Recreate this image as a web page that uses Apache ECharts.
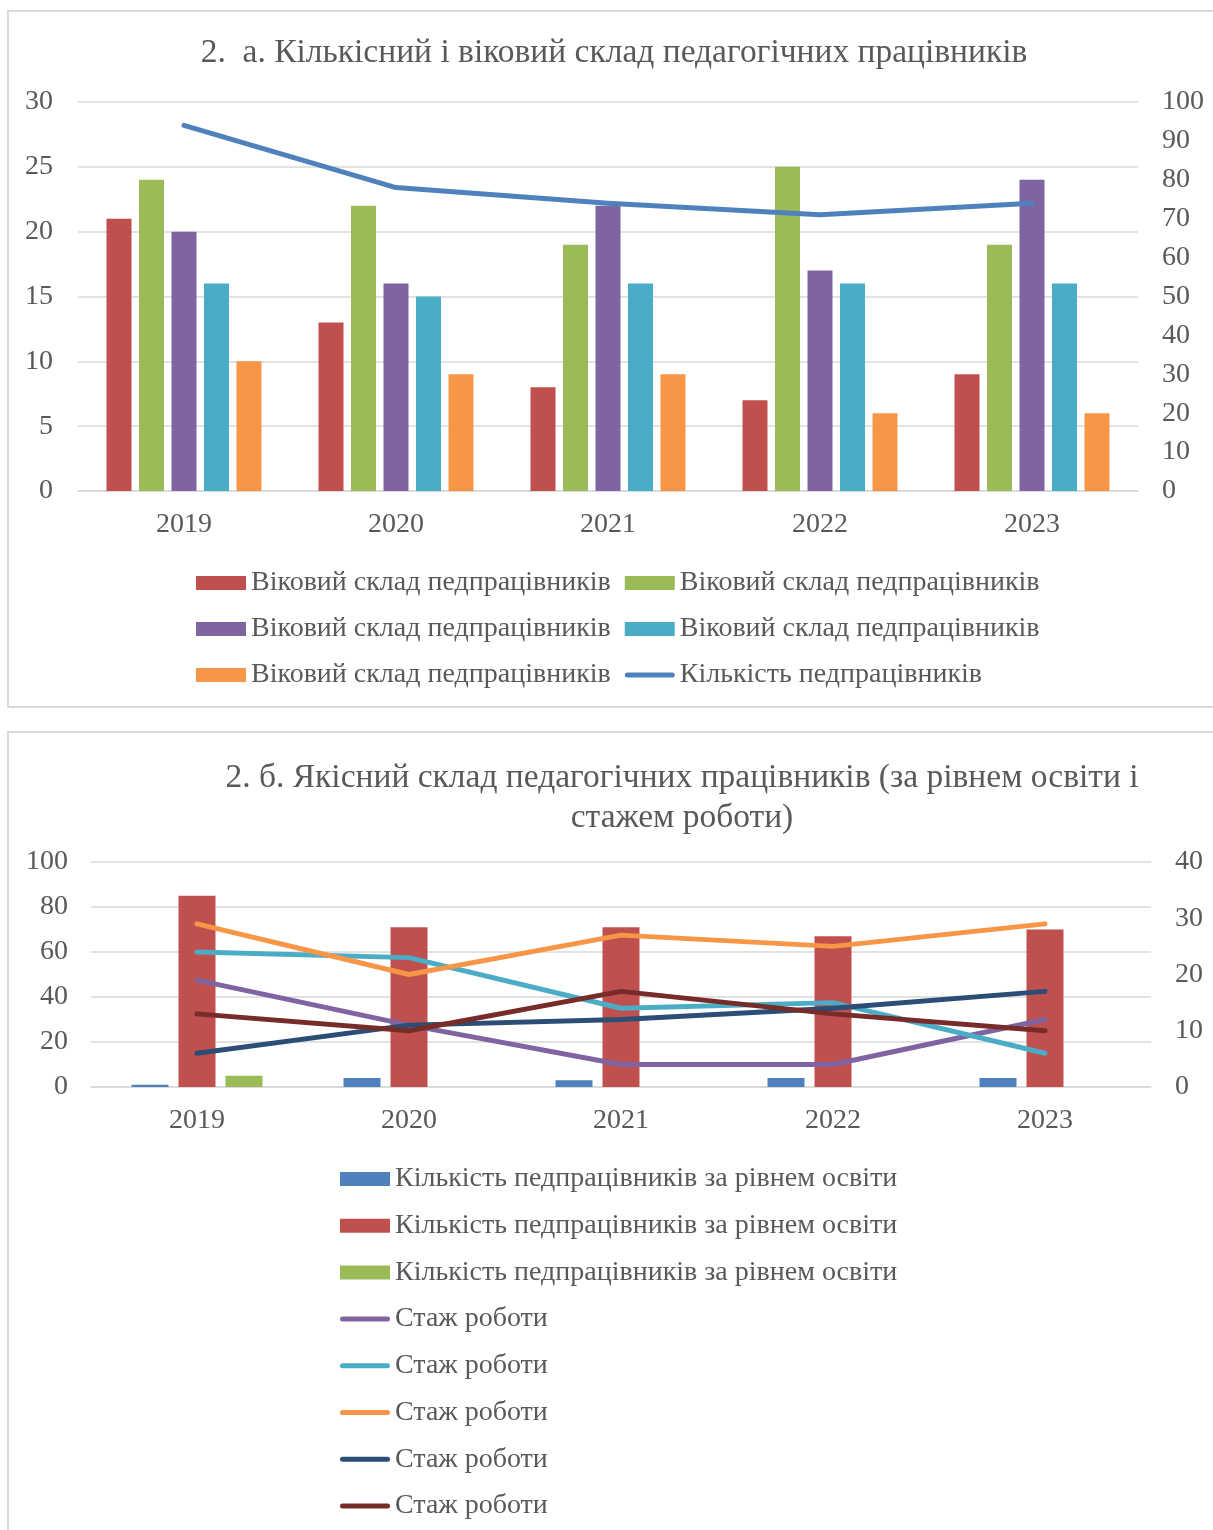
<!DOCTYPE html>
<html>
<head>
<meta charset="utf-8">
<title>Склад педагогічних працівників</title>
<script src="https://cdn.jsdelivr.net/npm/echarts@6/dist/echarts.min.js"></script>
<style>
  html, body { margin: 0; padding: 0; background: #ffffff; }
  #chart { width: 1213px; height: 1530px; }
</style>
</head>
<body>
<div id="chart"></div>
<script>
// Роки
const categories = ['2019', '2020', '2021', '2022', '2023'];

// 2. а. Віковий склад (ліва вісь) і загальна кількість (права вісь)
const ageLabel = 'Віковий склад педпрацівників';
const ageGroup1 = [21, 13, 8, 7, 9];
const ageGroup2 = [24, 22, 19, 25, 19];
const ageGroup3 = [20, 16, 22, 17, 24];
const ageGroup4 = [16, 15, 16, 16, 16];
const ageGroup5 = [10, 9, 9, 6, 6];
const staffLabel = 'Кількість педпрацівників';
const staffTotal = [94, 78, 74, 71, 74];

// 2. б. Рівень освіти (ліва вісь) і стаж роботи (права вісь)
const eduLabel = 'Кількість педпрацівників за рівнем освіти';
const eduLevel1 = [1, 4, 3, 4, 4];
const eduLevel2 = [85, 71, 71, 67, 70];
const eduLevel3 = [5, 0, 0, 0, 0];
const tenureLabel = 'Стаж роботи';
const tenure1 = [19, 11, 4, 4, 12];
const tenure2 = [24, 23, 14, 15, 6];
const tenure3 = [29, 20, 27, 25, 29];
const tenure4 = [6, 11, 12, 14, 17];
const tenure5 = [13, 10, 17, 13, 10];

// Шкали осей: [min, max, крок]
const topLeftAxis = [0, 30, 5];
const topRightAxis = [0, 100, 10];
const bottomLeftAxis = [0, 100, 20];
const bottomRightAxis = [0, 40, 10];

const FONT = "'Liberation Serif', 'Times New Roman', serif";
const TEXT = '#595959';
const GRID = '#d9d9d9';

// Однакові підписи серій розрізняються невидимим суфіксом, щоб легенда показала кожну
const uid = (name, i) => name + '\u200B'.repeat(i);
const clean = name => name.replace(/\u200B/g, '');

const lineIcon = 'path://M2.5,0 L47.5,0 A2.5,2.5 0 0 1 47.5,5 L2.5,5 A2.5,2.5 0 0 1 2.5,0 Z';

function barSeries(name, data, color, xi, yi, width, gap) {
  return {
    type: 'bar', name, data, xAxisIndex: xi, yAxisIndex: yi,
    barWidth: width, barGap: gap,
    itemStyle: { color }, emphasis: { disabled: true }
  };
}
function lineSeries(name, data, color, xi, yi) {
  return {
    type: 'line', name, data, xAxisIndex: xi, yAxisIndex: yi,
    symbol: 'none', z: 5,
    lineStyle: { color, width: 5, cap: 'round', join: 'round' },
    itemStyle: { color }, emphasis: { disabled: true }
  };
}

const ageNames = [1, 2, 3, 4, 5].map(i => uid(ageLabel, i));
const eduNames = [1, 2, 3].map(i => uid(eduLabel, i));
const tenureNames = [1, 2, 3, 4, 5].map(i => uid(tenureLabel, i));

function catAxis(gridIndex) {
  return {
    type: 'category', gridIndex, data: categories,
    axisLine: { lineStyle: { color: GRID, width: 1.5 } },
    axisTick: { show: false },
    axisLabel: { color: TEXT, fontFamily: FONT, fontSize: 28, margin: 20 }
  };
}
function valAxis(gridIndex, range, position, showGrid, margin) {
  return {
    type: 'value', gridIndex, position,
    min: range[0], max: range[1], interval: range[2],
    axisLine: { show: false }, axisTick: { show: false },
    splitLine: { show: showGrid, lineStyle: { color: GRID, width: 1.5 } },
    axisLabel: { color: TEXT, fontFamily: FONT, fontSize: 28, margin }
  };
}

const option = {
  animation: false,
  backgroundColor: '#ffffff',
  graphic: [
    { type: 'rect', shape: { x: 8, y: 11, width: 1220, height: 696 },
      style: { fill: null, stroke: GRID, lineWidth: 2 }, silent: true, z: -10 },
    { type: 'rect', shape: { x: 8, y: 732, width: 1220, height: 820 },
      style: { fill: null, stroke: GRID, lineWidth: 2 }, silent: true, z: -10 },
    { type: 'text', x: 614, y: 53,
      style: { text: '2.  а. Кількісний і віковий склад педагогічних працівників',
        fill: TEXT, font: '33.5px ' + FONT, textAlign: 'center', textVerticalAlign: 'middle' } },
    { type: 'text', x: 682, y: 798,
      style: { text: '2. б. Якісний склад педагогічних працівників (за рівнем освіти і\nстажем роботи)',
        fill: TEXT, font: '33.5px ' + FONT, lineHeight: 40, textAlign: 'center', textVerticalAlign: 'middle' } }
  ],
  grid: [
    { left: 78, top: 102, width: 1060, height: 389 },
    { left: 91, top: 862, width: 1060, height: 225 }
  ],
  xAxis: [catAxis(0), catAxis(1)],
  yAxis: [
    valAxis(0, topLeftAxis, 'left', true, 25),
    valAxis(0, topRightAxis, 'right', false, 24),
    valAxis(1, bottomLeftAxis, 'left', true, 23),
    valAxis(1, bottomRightAxis, 'right', false, 24)
  ],
  legend: [
    {
      left: 196, top: 567, width: 850, padding: 0,
      itemWidth: 50, itemHeight: 14, itemGap: 14,
      selectedMode: false,
      formatter: clean,
      textStyle: { color: TEXT, fontFamily: FONT, fontSize: 28, lineHeight: 32 },
      data: ageNames.map(n => ({ name: n, icon: 'rect' }))
        .concat([{ name: staffLabel, icon: lineIcon }])
    },
    {
      orient: 'vertical', left: 340, top: 1163, padding: 0,
      itemWidth: 50, itemHeight: 14, itemGap: 14.7,
      selectedMode: false,
      formatter: clean,
      textStyle: { color: TEXT, fontFamily: FONT, fontSize: 28, lineHeight: 32 },
      data: eduNames.map(n => ({ name: n, icon: 'rect' }))
        .concat(tenureNames.map(n => ({ name: n, icon: lineIcon })))
    }
  ],
  series: [
    barSeries(ageNames[0], ageGroup1, '#C0504D', 0, 0, 25, '30%'),
    barSeries(ageNames[1], ageGroup2, '#9BBB59', 0, 0, 25, '30%'),
    barSeries(ageNames[2], ageGroup3, '#8064A2', 0, 0, 25, '30%'),
    barSeries(ageNames[3], ageGroup4, '#4BACC6', 0, 0, 25, '30%'),
    barSeries(ageNames[4], ageGroup5, '#F79646', 0, 0, 25, '30%'),
    lineSeries(staffLabel, staffTotal, '#4F81BD', 0, 1),

    barSeries(eduNames[0], eduLevel1, '#4F81BD', 1, 2, 37, '27%'),
    barSeries(eduNames[1], eduLevel2, '#C0504D', 1, 2, 37, '27%'),
    barSeries(eduNames[2], eduLevel3, '#9BBB59', 1, 2, 37, '27%'),
    lineSeries(tenureNames[0], tenure1, '#8064A2', 1, 3),
    lineSeries(tenureNames[1], tenure2, '#4BACC6', 1, 3),
    lineSeries(tenureNames[2], tenure3, '#F79646', 1, 3),
    lineSeries(tenureNames[3], tenure4, '#2C4D75', 1, 3),
    lineSeries(tenureNames[4], tenure5, '#772C2A', 1, 3)
  ]
};

const chart = echarts.init(document.getElementById('chart'), null, { renderer: 'canvas' });
chart.setOption(option);
</script>
</body>
</html>
